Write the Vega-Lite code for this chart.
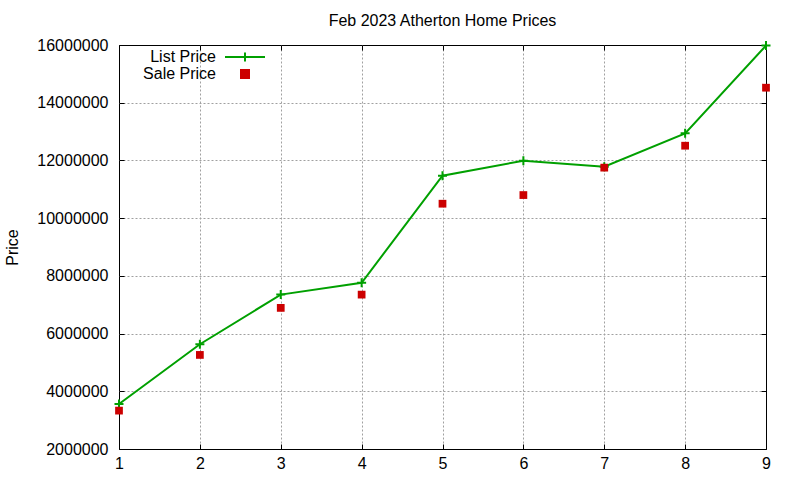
{
  "$schema": "https://vega.github.io/schema/vega-lite/v6.json",
  "autosize": "none",
  "width": 647,
  "height": 404,
  "padding": {"left": 119, "top": 45, "right": 34, "bottom": 31},
  "background": "white",
  "title": {"text": "Feb 2023 Atherton Home Prices", "font": "Liberation Sans", "fontSize": 16, "fontWeight": "normal", "color": "black", "anchor": "middle", "offset": 8},
  "config": {
    "view": {"stroke": "black", "strokeWidth": 1},
    "axis": {
      "labelFont": "Liberation Sans", "labelFontSize": 16, "labelColor": "black",
      "titleFont": "Liberation Sans", "titleFontSize": 16, "titleFontWeight": "normal", "titleColor": "black",
      "domain": false, "tickColor": "black", "tickSize": -5, "tickWidth": 1, "labelFlush": false
    }
  },
  "data": {"values": [
    {"x": 1, "series": "List Price", "price": 3560000},
    {"x": 2, "series": "List Price", "price": 5630000},
    {"x": 3, "series": "List Price", "price": 7350000},
    {"x": 4, "series": "List Price", "price": 7760000},
    {"x": 5, "series": "List Price", "price": 11470000},
    {"x": 6, "series": "List Price", "price": 11990000},
    {"x": 7, "series": "List Price", "price": 11780000},
    {"x": 8, "series": "List Price", "price": 12940000},
    {"x": 9, "series": "List Price", "price": 15980000},
    {"x": 1, "series": "Sale Price", "price": 3330000},
    {"x": 2, "series": "Sale Price", "price": 5260000},
    {"x": 3, "series": "Sale Price", "price": 6890000},
    {"x": 4, "series": "Sale Price", "price": 7350000},
    {"x": 5, "series": "Sale Price", "price": 10500000},
    {"x": 6, "series": "Sale Price", "price": 10800000},
    {"x": 7, "series": "Sale Price", "price": 11750000},
    {"x": 8, "series": "Sale Price", "price": 12510000},
    {"x": 9, "series": "Sale Price", "price": 14520000}
  ]},
  "resolve": {"axis": {"x": "independent", "y": "independent"}},
  "layer": [
    {
      "transform": [{"filter": "datum.series === 'List Price'"}],
      "mark": {"type": "line", "strokeWidth": 2, "clip": false},
      "encoding": {
        "x": {"field": "x", "type": "quantitative", "scale": {"domain": [1, 9], "nice": false, "zero": false},
              "axis": {"orient": "bottom", "title": null, "values": [1, 2, 3, 4, 5, 6, 7, 8, 9], "format": "d", "labelPadding": 11,
                "grid": true, "gridColor": "#a0a0a0", "gridDash": [2, 2], "gridWidth": 1,
                "gridOpacity": {"condition": {"test": "datum.value === 1 || datum.value === 9", "value": 0}, "value": 1}}},
        "y": {"field": "price", "type": "quantitative", "scale": {"domain": [2000000, 16000000], "nice": false, "zero": false},
              "axis": {"orient": "left", "title": "Price", "values": [2000000, 4000000, 6000000, 8000000, 10000000, 12000000, 14000000, 16000000], "format": "d", "labelPadding": 16, "titlePadding": 16,
                "grid": true, "gridColor": "#a0a0a0", "gridDash": [2, 2], "gridWidth": 1,
                "gridOpacity": {"condition": {"test": "datum.value === 2000000 || datum.value === 16000000", "value": 0}, "value": 1}}},
        "color": {"field": "series", "type": "nominal", "scale": {"domain": ["List Price", "Sale Price"], "range": ["#00a000", "#cc0000"]},
          "legend": {"title": null, "orient": "none", "legendX": 118, "legendY": 4,
            "labelFont": "Liberation Sans", "labelFontSize": 16, "labelColor": "black",
            "labelAlign": "right", "labelOffset": -37, "rowPadding": -1, "symbolSize": 100,
            "encode": {"symbols": {"update": {
              "shape": {"signal": "datum.value === 'List Price' ? 'M-1,0H1M0,-0.225V0.225' : 'square'"},
              "size": {"signal": "datum.value === 'List Price' ? 1600 : 64"},
              "fill": {"signal": "datum.value === 'List Price' ? 'transparent' : '#cc0000'"},
              "stroke": {"signal": "datum.value === 'List Price' ? '#00a000' : 'transparent'"},
              "strokeWidth": {"value": 2},
              "opacity": {"value": 1}
            }}}}}
      }
    },
    {
      "transform": [{"filter": "datum.series === 'List Price'"}],
      "mark": {"type": "point", "shape": "M-1,0H1M0,-1V1", "size": 81, "strokeWidth": 2, "filled": false, "opacity": 1, "clip": false},
      "encoding": {
        "x": {"field": "x", "type": "quantitative",
              "axis": {"orient": "top", "title": null, "values": [1, 2, 3, 4, 5, 6, 7, 8, 9], "labels": false, "grid": false}},
        "y": {"field": "price", "type": "quantitative",
              "axis": {"orient": "right", "title": null, "values": [2000000, 4000000, 6000000, 8000000, 10000000, 12000000, 14000000, 16000000], "labels": false, "grid": false}},
        "color": {"field": "series", "type": "nominal"}
      }
    },
    {
      "transform": [{"filter": "datum.series === 'Sale Price'"}],
      "mark": {"type": "square", "size": 60, "opacity": 1, "clip": false},
      "encoding": {
        "x": {"field": "x", "type": "quantitative", "axis": null},
        "y": {"field": "price", "type": "quantitative", "axis": null},
        "color": {"field": "series", "type": "nominal"}
      }
    }
  ]
}
